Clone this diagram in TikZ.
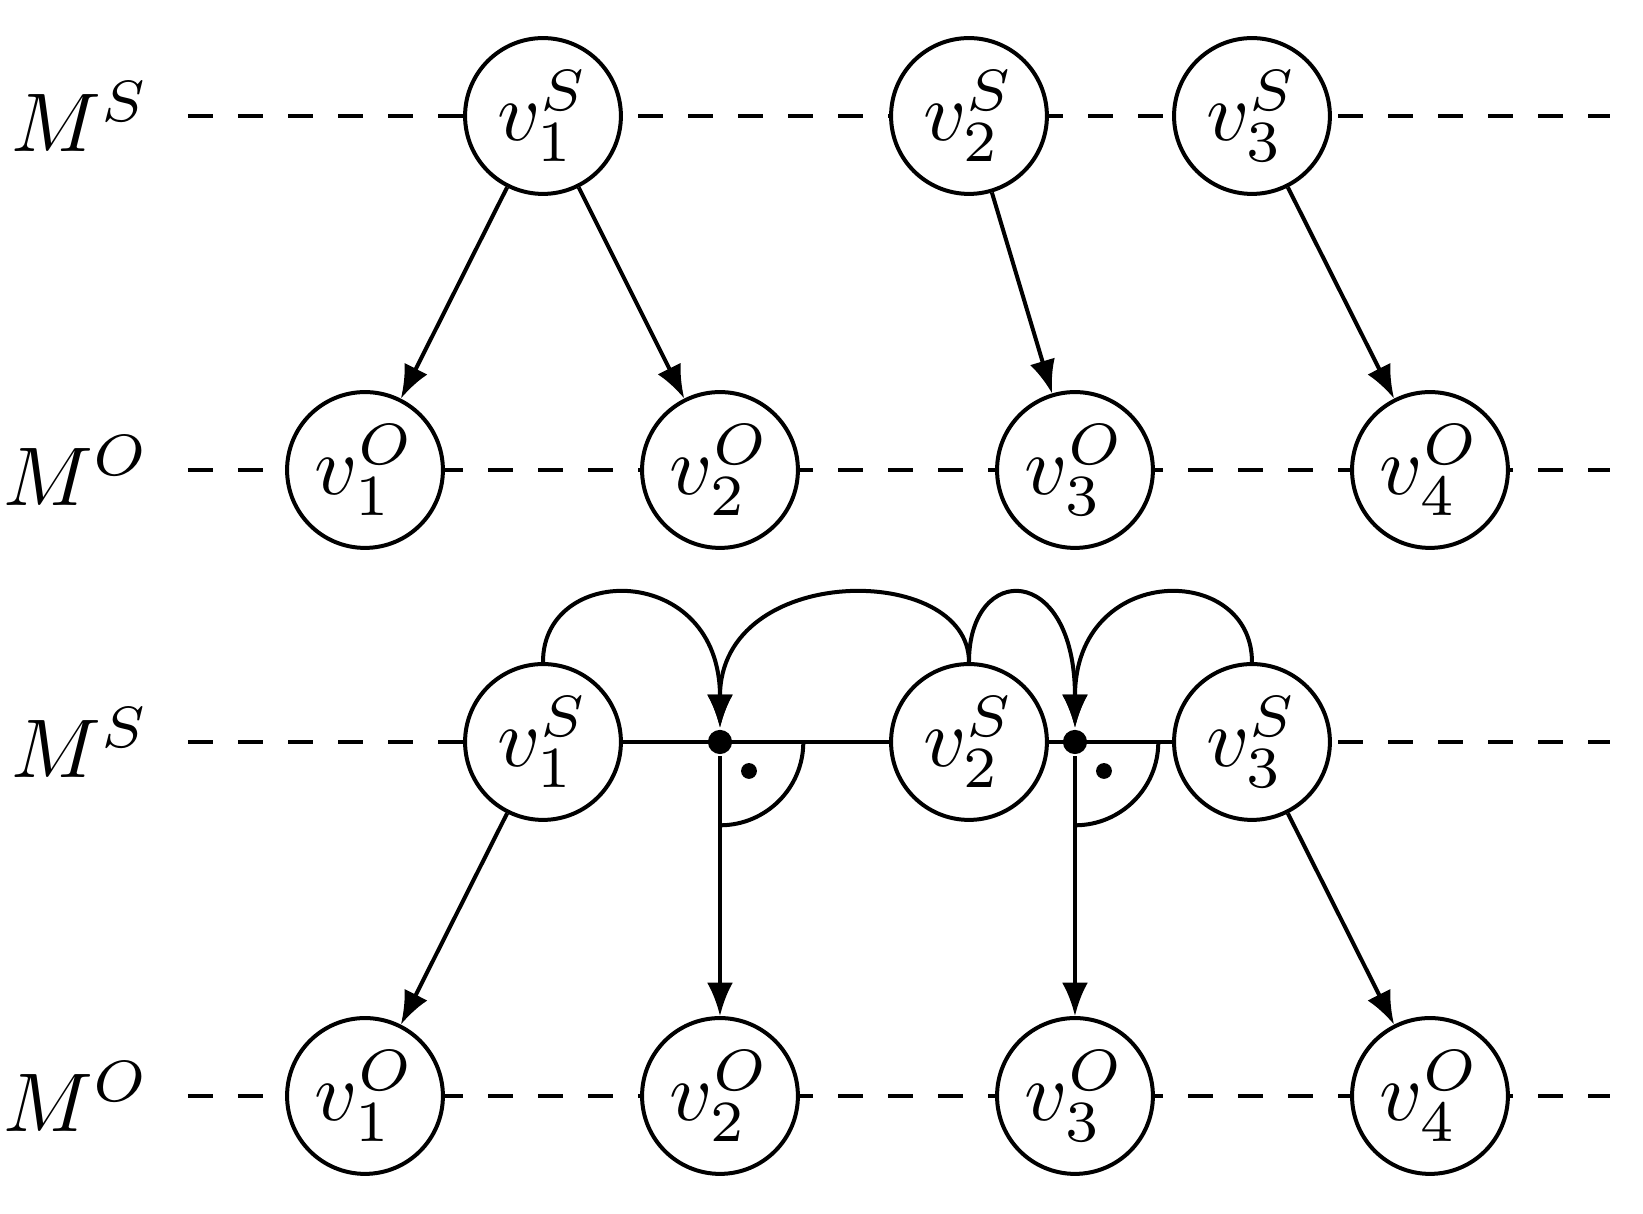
\documentclass[tikz,border=0pt]{standalone}
\usetikzlibrary{arrows.meta}
\begin{document}
\begin{tikzpicture}[x=0.12pt,y=0.12pt,line width=0.48pt,
  vnode/.style={circle,draw,fill=white,minimum size=18.7pt,inner sep=0pt},
  jdot/.style={circle,fill,minimum size=2.9pt,inner sep=0pt},
  rdot/.style={circle,fill,minimum size=1.9pt,inner sep=0pt},
  lab/.style={anchor=base east,inner sep=0pt},
  dashrow/.style={dash pattern=on 3pt off 3pt},
  arr/.style={-{Latex[length=4pt,width=3.1pt]}}]
\useasboundingbox (0,0) rectangle (1643,1214);
% ---------- top diagram ----------
\coordinate (a1) at (188,1098); \coordinate (b1) at (1610,1098);
\coordinate (a2) at (188,744);  \coordinate (b2) at (1610,744);
\draw[dashrow] (a1) -- (b1);
\draw[dashrow] (a2) -- (b2);
\node[lab] (LS1) at (152,1062) {$M^S$};
\node[lab] (LO1) at (152,708) {$M^O$};
\node[vnode] (v1S) at (543,1098) {$v^S_1$};
\node[vnode] (v2S) at (969,1098) {$v^S_2$};
\node[vnode] (v3S) at (1252,1098) {$v^S_3$};
\node[vnode] (v1O) at (365,744) {$v^O_1$};
\node[vnode] (v2O) at (720,744) {$v^O_2$};
\node[vnode] (v3O) at (1075,744) {$v^O_3$};
\node[vnode] (v4O) at (1430,744) {$v^O_4$};
\draw[arr] (v1S) -- (v1O);
\draw[arr] (v1S) -- (v2O);
\draw[arr] (v2S) -- (v3O);
\draw[arr] (v3S) -- (v4O);
% ---------- bottom diagram ----------
\coordinate (a3) at (188,472); \coordinate (b3) at (1610,472);
\coordinate (a4) at (188,118); \coordinate (b4) at (1610,118);
\draw[dashrow] (a3) -- (b3);
\draw[dashrow] (a4) -- (b4);
\node[lab] (LS2) at (152,436) {$M^S$};
\node[lab] (LO2) at (152,82) {$M^O$};
\node[vnode] (w1S) at (543,472) {$v^S_1$};
\node[vnode] (w2S) at (969,472) {$v^S_2$};
\node[vnode] (w3S) at (1252,472) {$v^S_3$};
\node[vnode] (w1O) at (365,118) {$v^O_1$};
\node[vnode] (w2O) at (720,118) {$v^O_2$};
\node[vnode] (w3O) at (1075,118) {$v^O_3$};
\node[vnode] (w4O) at (1430,118) {$v^O_4$};
\draw (w1S.east) -- (w2S.west);
\draw (w2S.east) -- (w3S.west);
\node[jdot] (d1) at (720,472) {};
\node[jdot] (d2) at (1075,472) {};
\draw ([xshift=10pt]d1.center) arc[start angle=0,end angle=-90,radius=10pt];
\draw ([xshift=10pt]d2.center) arc[start angle=0,end angle=-90,radius=10pt];
\node[rdot] (r1) at (749,443) {};
\node[rdot] (r2) at (1104,443) {};
\draw[arr] (d1) -- (w2O);
\draw[arr] (d2) -- (w3O);
\draw[arr] (w1S) -- (w1O);
\draw[arr] (w3S) -- (w4O);
\draw[arr] (w1S.north) .. controls (543,652) and (720,652) .. (d1.north);
\draw[arr] (w2S.north) .. controls (969,652) and (720,652) .. (d1.north);
\draw[arr] (w2S.north) .. controls (969,652) and (1075,652) .. (d2.north);
\draw[arr] (w3S.north) .. controls (1252,652) and (1075,652) .. (d2.north);
\end{tikzpicture}
\end{document}
